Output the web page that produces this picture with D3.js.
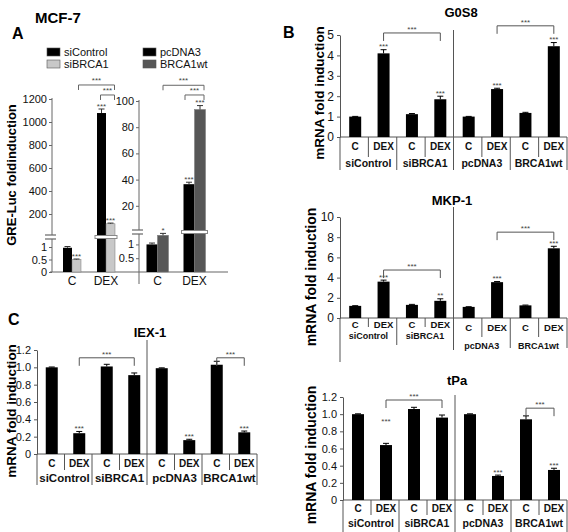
<!DOCTYPE html>
<html><head><meta charset="utf-8">
<script src="https://cdn.jsdelivr.net/npm/d3@7"></script>
<style>
body{margin:0;background:#fff;}
svg{display:block;font-family:"Liberation Sans",Arial,Helvetica,sans-serif;}
</style></head><body>
<svg id="chart" width="568" height="532"></svg>
<script>
// ================= DATA =================
const conditions = ["C", "DEX"];
const groups = ["siControl", "siBRCA1", "pcDNA3", "BRCA1wt"];

// Panel A (GRE-Luc fold induction), values per condition [C, DEX]
const aLegendLeft = ["siControl", "siBRCA1"];
const aLegendRight = ["pcDNA3", "BRCA1wt"];
const aSiControl = [0.97, 1078];
const aSiControlErr = [0.05, 35];
const aSiBRCA1 = [0.5, 115];
const aSiBRCA1Err = [0.02, 6];
const aPcDNA3 = [1.0, 36.5];
const aPcDNA3Err = [0.05, 1.5];
const aBRCA1wt = [1.33, 93.5];
const aBRCA1wtErr = [0.07, 3];
const aSiControlStars = ["", "***"];
const aSiBRCA1Stars = ["***", "***"];
const aPcDNA3Stars = ["", "***"];
const aBRCA1wtStars = ["*", "***"];
const aLeftUpperTicks = [200, 400, 600, 800, 1000, 1200];
const aLeftLowerTicks = [0, 0.5, 1];
const aRightUpperTicks = [20, 40, 60, 80, 100];
const aRightLowerTicks = [0.5, 1];

// Panel B / C (mRNA fold induction), order: siControl C, DEX, siBRCA1 C, DEX, pcDNA3 C, DEX, BRCA1wt C, DEX
const g0s8Values = [1.0, 4.1, 1.12, 1.85, 1.0, 2.35, 1.18, 4.45];
const g0s8Errors = [0.01, 0.18, 0.03, 0.15, 0.01, 0.04, 0.03, 0.18];
const g0s8Stars = ["", "***", "", "***", "", "***", "", "***"];
const g0s8Ticks = [0, 1, 2, 3, 4, 5];

const mkp1Values = [1.2, 3.6, 1.3, 1.7, 1.1, 3.55, 1.25, 6.9];
const mkp1Errors = [0.02, 0.15, 0.05, 0.2, 0.02, 0.06, 0.03, 0.2];
const mkp1Stars = ["", "***", "", "**", "", "***", "", "***"];
const mkp1Ticks = [0, 2, 4, 6, 8, 10];

const tpaValues = [1.0, 0.64, 1.06, 0.96, 1.0, 0.28, 0.94, 0.35];
const tpaErrors = [0.004, 0.02, 0.02, 0.03, 0.004, 0.01, 0.04, 0.02];
const tpaStars = ["", "***", "", "", "", "***", "", "***"];
const tpaTicks = [0, 0.2, 0.4, 0.6, 0.8, 1.0, 1.2];

const iex1Values = [1.0, 0.24, 1.01, 0.91, 0.99, 0.16, 1.03, 0.25];
const iex1Errors = [0.004, 0.02, 0.025, 0.025, 0.004, 0.01, 0.04, 0.015];
const iex1Stars = ["", "***", "", "", "", "***", "", "***"];
const iex1Ticks = [0, 0.2, 0.4, 0.6, 0.8, 1.0, 1.2];

// comparison brackets: [from bar, to bar, level (data units)]
const g0s8Brackets = [[1, 3, 5.1], [5, 7, 5.45]];
const mkp1Brackets = [[1, 3, 4.75], [5, 7, 8.5]];
const tpaBrackets = [[1, 3, 1.165], [6, 7, 1.07]];
const iex1Brackets = [[1, 3, 1.11], [6, 7, 1.11]];

// ================= DRAWING =================
const svg = d3.select("#chart");
const BAR = "#000";
const AX = "#555";
const STAR = "#444";

function decFmt(d) { return d === 0 ? "0" : d3.format(".1f")(d); }

// ---------- generic expression panel ----------
function drawExpr(cfg) {
  const g = svg.append("g");
  const x = d3.scaleBand().domain(d3.range(8)).range([cfg.x0, cfg.x1]);
  const bw = x.bandwidth();
  const y = d3.scaleLinear().domain([0, cfg.max]).range([cfg.y0, cfg.y1]);
  const barW = cfg.barW || 12;

  const ax = g.append("g").attr("transform", `translate(${cfg.x0},0)`)
    .call(d3.axisLeft(y).tickValues(cfg.ticks).tickFormat(cfg.fmt).tickSize(3).tickSizeOuter(0).tickPadding(3));
  ax.select(".domain").attr("stroke", AX);
  ax.selectAll(".tick line").attr("stroke", AX);
  ax.selectAll(".tick text").attr("font-size", cfg.tickFont || 12).attr("fill", "#111")
    .attr("font-family", '"Liberation Sans",Arial,sans-serif');

  g.append("line").attr("x1", cfg.x0).attr("x2", cfg.x1).attr("y1", cfg.y0).attr("y2", cfg.y0).attr("stroke", AX);

  g.selectAll("rect.bar").data(cfg.values).join("rect").attr("class", "bar")
    .attr("x", (d, i) => x(i) + bw / 2 - barW / 2 + 1)
    .attr("width", barW).attr("y", d => y(d)).attr("height", d => cfg.y0 - y(d)).attr("fill", BAR);

  cfg.values.forEach((v, i) => {
    const cx = x(i) + bw / 2 + 1;
    const top = y(v + cfg.errors[i]);
    g.append("line").attr("x1", cx).attr("x2", cx).attr("y1", y(v)).attr("y2", top).attr("stroke", "#000");
    g.append("line").attr("x1", cx - 3).attr("x2", cx + 3).attr("y1", top).attr("y2", top).attr("stroke", "#000");
    if (cfg.stars[i]) {
      const sy = (cfg.starLevel && cfg.starLevel[i] != null) ? y(cfg.starLevel[i]) : top;
      g.append("text").attr("x", cx).attr("y", sy - 0.5).attr("text-anchor", "middle")
        .attr("font-size", 8).attr("fill", STAR).text(cfg.stars[i]);
    }
  });

  cfg.brackets.forEach(([a, b, lv]) => {
    const xa = x(a) + bw / 2 + 1, xb = x(b) + bw / 2 + 1, yy = y(lv);
    g.append("path").attr("d", `M${xa},${yy + 8}V${yy}H${xb}V${yy + 8}`)
      .attr("fill", "none").attr("stroke", AX);
    g.append("text").attr("x", (xa + xb) / 2).attr("y", yy - 1).attr("text-anchor", "middle")
      .attr("font-size", 8).attr("fill", STAR).text("***");
  });

  const xd = cfg.x0 + 4 * bw;
  g.append("line").attr("x1", xd).attr("x2", xd).attr("y1", cfg.divTop).attr("y2", cfg.divBottom).attr("stroke", AX);

  g.append("line").attr("x1", cfg.x0).attr("x2", cfg.x0).attr("y1", cfg.y0).attr("y2", cfg.axisBottom).attr("stroke", AX);
  for (let k = 1; k <= 8; k++) {
    if (k === 4) continue;
    const half = k < 4 ? 0 : 1;
    const xs = cfg.x0 + k * bw;
    const end = (k % 2 === 0) ? cfg.longEnd[half] : cfg.shortEnd[half];
    g.append("line").attr("x1", xs).attr("x2", xs).attr("y1", cfg.y0).attr("y2", end).attr("stroke", AX);
  }
  d3.range(8).forEach(i => {
    const half = i < 4 ? 0 : 1;
    g.append("text").attr("x", x(i) + bw / 2 + 1).attr("y", cfg.catY[half]).attr("text-anchor", "middle")
      .attr("font-size", cfg.catFont || 10).attr("font-weight", "bold").attr("fill", "#111")
      .text(conditions[i % 2]);
  });
  groups.forEach((gn, j) => {
    const half = j < 2 ? 0 : 1;
    g.append("text").attr("x", cfg.x0 + (j * 2 + 1) * bw).attr("y", cfg.grpY[half]).attr("text-anchor", "middle")
      .attr("font-size", cfg.grpFont || 10).attr("font-weight", "bold").attr("fill", "#111")
      .attr("letter-spacing", cfg.grpSpacing || 0).text(gn);
  });

  g.append("text").attr("x", cfg.titleX).attr("y", cfg.titleY).attr("text-anchor", "middle")
    .attr("font-size", 13).attr("font-weight", "bold").text(cfg.title);
  g.append("text").attr("transform", `translate(${cfg.labX},${cfg.labY}) rotate(-90)`)
    .attr("text-anchor", "middle").attr("dominant-baseline", "central")
    .attr("font-size", cfg.labFont).attr("font-weight", "bold").text("mRNA fold induction");
}

// G0S8
drawExpr({
  x0: 340, x1: 567, y0: 137, y1: 35, max: 5, ticks: g0s8Ticks, fmt: d3.format("d"),
  values: g0s8Values, errors: g0s8Errors, stars: g0s8Stars, brackets: g0s8Brackets,
  divTop: 30, divBottom: 170, axisBottom: 170, shortEnd: [157, 157], longEnd: [170, 170],
  catY: [150, 150], grpY: [167, 167], grpFont: 10.5,
  title: "G0S8", titleX: 461, titleY: 17, labX: 319, labY: 93, labFont: 13.5
});
// MKP-1
drawExpr({
  x0: 340, x1: 567, y0: 318, y1: 217, max: 10, ticks: mkp1Ticks, fmt: d3.format("d"),
  values: mkp1Values, errors: mkp1Errors, stars: mkp1Stars, brackets: mkp1Brackets,
  divTop: 207, divBottom: 350, axisBottom: 362, shortEnd: [327, 337], longEnd: [345, 348],
  catY: [328, 331], grpY: [339, 349], grpFont: 9, catFont: 9.5,
  title: "MKP-1", titleX: 452, titleY: 205, labX: 311, labY: 277, labFont: 14
});
// tPa
drawExpr({
  x0: 343, x1: 567, y0: 500, y1: 397, max: 1.2, ticks: tpaTicks, fmt: decFmt, tickFont: 11,
  values: tpaValues, errors: tpaErrors, stars: tpaStars, brackets: tpaBrackets,
  starLevel: [null, 0.88, null, null, null, null, null, null],
  divTop: 395, divBottom: 532, axisBottom: 532, shortEnd: [515, 515], longEnd: [532, 532],
  catY: [512, 512], grpY: [527, 527], grpFont: 10.5,
  title: "tPa", titleX: 457, titleY: 385, labX: 311, labY: 455, labFont: 14
});
// IEX-1
drawExpr({
  x0: 37, x1: 257, y0: 454, y1: 350, max: 1.2, ticks: iex1Ticks, fmt: decFmt, tickFont: 11,
  values: iex1Values, errors: iex1Errors, stars: iex1Stars, brackets: iex1Brackets,
  divTop: 340, divBottom: 485, axisBottom: 485, shortEnd: [470, 470], longEnd: [485, 485],
  catY: [467, 467], grpY: [482, 482], grpFont: 11.5, catFont: 10,
  title: "IEX-1", titleX: 150, titleY: 337, labX: 11, labY: 411, labFont: 13.5
});

// ---------- Panel A ----------
(function () {
  const g = svg.append("g");
  const AXA = "#666";
  const LIGHT = "#c8c8c8", DARK = "#575757";
  const yZero = 272;

  function sub(cfg) {
    const yUp = d3.scaleLinear().domain([0, cfg.upMax]).range([cfg.breakY, cfg.upTopY]);
    const yLo = d3.scaleLinear().domain([0, cfg.loMax]).range([yZero, cfg.breakY]);
    const val = v => v > cfg.loMax ? yUp(v) : yLo(v);
    g.append("line").attr("x1", cfg.ax).attr("x2", cfg.ax).attr("y1", cfg.axisBottom).attr("y2", cfg.breakY + 2).attr("stroke", AXA);
    g.append("line").attr("x1", cfg.ax).attr("x2", cfg.ax).attr("y1", cfg.breakY - 2).attr("y2", cfg.upTopY - 1).attr("stroke", AXA);
    [-2, 2].forEach(o => g.append("line").attr("x1", cfg.ax - 7).attr("x2", cfg.ax + 4)
      .attr("y1", cfg.breakY + o).attr("y2", cfg.breakY + o).attr("stroke", AXA).attr("stroke-width", 1.2));
    const upAx = g.append("g").attr("transform", `translate(${cfg.ax},0)`)
      .call(d3.axisLeft(yUp).tickValues(cfg.upTicks).tickFormat(d3.format("d")).tickSize(3).tickSizeOuter(0).tickPadding(2));
    const loAx = g.append("g").attr("transform", `translate(${cfg.ax},0)`)
      .call(d3.axisLeft(yLo).tickValues(cfg.loTicks).tickFormat(d => String(d)).tickSize(3).tickSizeOuter(0).tickPadding(2));
    [upAx, loAx].forEach(a => {
      a.select(".domain").remove();
      a.selectAll(".tick line").attr("stroke", AXA);
      a.selectAll(".tick text").attr("font-size", 11).attr("fill", "#111")
        .attr("font-family", '"Liberation Sans",Arial,sans-serif');
    });
    const xb = d3.scaleBand().domain(conditions).range([cfg.xs, cfg.xe]);
    const series = [
      { v: cfg.s1, e: cfg.e1, s: cfg.st1, c: "#000" },
      { v: cfg.s2, e: cfg.e2, s: cfg.st2, c: cfg.c2 }
    ];
    conditions.forEach((cond, ci) => {
      const cx = xb(cond) + xb.bandwidth() / 2;
      series.forEach((s, si) => {
        const bx = cx - cfg.bw + si * cfg.bw;
        const top = val(s.v[ci]);
        g.append("rect").attr("x", bx).attr("width", cfg.bw).attr("y", top).attr("height", yZero - top)
          .attr("fill", s.c).attr("stroke", si === 1 ? "#777" : "none").attr("stroke-width", 0.5);
        const et = val(s.v[ci] + s.e[ci]);
        const ex = bx + cfg.bw / 2;
        g.append("line").attr("x1", ex).attr("x2", ex).attr("y1", top).attr("y2", et).attr("stroke", "#333");
        g.append("line").attr("x1", ex - 3).attr("x2", ex + 3).attr("y1", et).attr("y2", et).attr("stroke", "#333");
        if (s.s[ci]) g.append("text").attr("x", ex).attr("y", et - 0.5).attr("text-anchor", "middle")
          .attr("font-size", 8).attr("fill", STAR).text(s.s[ci]);
      });
      if (cfg.s1[ci] > cfg.loMax || cfg.s2[ci] > cfg.loMax) {
        g.append("rect").attr("x", cx - cfg.bw - 2).attr("width", cfg.bw * 2 + 4)
          .attr("y", cfg.breakY - 1.5).attr("height", 3)
          .attr("fill", "#fff").attr("stroke", "#888").attr("stroke-width", 1);
      }
      g.append("text").attr("x", cx).attr("y", 285).attr("text-anchor", "middle")
        .attr("font-size", 12).attr("fill", "#111").text(cond);
    });
    const barCenter = (ci, si) => xb(conditions[ci]) + xb.bandwidth() / 2 - cfg.bw / 2 + si * cfg.bw;
    cfg.brackets.forEach(b => {
      const xa = barCenter(b[0], b[1]) + b[5], xz = barCenter(b[2], b[3]) + 4, yy = yUp(b[4]);
      g.append("path").attr("d", `M${xa},${yy + 5}V${yy}H${xz}V${yy + 5}`).attr("fill", "none").attr("stroke", AXA);
      g.append("text").attr("x", (xa + xz) / 2).attr("y", yy - 2).attr("text-anchor", "middle")
        .attr("font-size", 8).attr("fill", STAR).text("***");
    });
  }

  g.append("line").attr("x1", 50).attr("x2", 228).attr("y1", yZero).attr("y2", yZero).attr("stroke", AXA).attr("stroke-width", 1.2);

  sub({
    ax: 52, upMax: 1200, upTopY: 99, breakY: 237, loMax: 1.4, upTicks: aLeftUpperTicks, loTicks: aLeftLowerTicks,
    axisBottom: yZero, xs: 55, xe: 123, bw: 9, s1: aSiControl, e1: aSiControlErr, st1: aSiControlStars,
    s2: aSiBRCA1, e2: aSiBRCA1Err, st2: aSiBRCA1Stars, c2: LIGHT,
    brackets: [[0, 1, 1, 1, 1322, 2], [1, 0, 1, 1, 1235, -1]]
  });
  sub({
    ax: 139, upMax: 100, upTopY: 101, breakY: 232, loMax: 1.45, upTicks: aRightUpperTicks, loTicks: aRightLowerTicks,
    axisBottom: 284, xs: 139, xe: 213, bw: 11, s1: aPcDNA3, e1: aPcDNA3Err, st1: aPcDNA3Stars,
    s2: aBRCA1wt, e2: aBRCA1wtErr, st2: aBRCA1wtStars, c2: DARK,
    brackets: [[0, 1, 1, 1, 112, 0], [1, 0, 1, 1, 104.6, -4]]
  });

  const leg = [[47, aLegendLeft, ["#000", LIGHT]], [143, aLegendRight, ["#000", DARK]]];
  leg.forEach(([lx, names, cols]) => {
    names.forEach((n, i) => {
      g.append("rect").attr("x", lx).attr("y", 48 + i * 12).attr("width", 13).attr("height", 8)
        .attr("fill", cols[i]).attr("stroke", "#555").attr("stroke-width", 0.6);
      g.append("text").attr("x", lx + 17).attr("y", 56 + i * 12).attr("font-size", 11).attr("fill", "#111").text(n);
    });
  });

  g.append("text").attr("transform", "translate(11,175) rotate(-90)").attr("text-anchor", "middle")
    .attr("dominant-baseline", "central").attr("font-size", 13).attr("font-weight", "bold").text("GRE-Luc foldinduction");
})();

svg.append("text").attr("x", 35).attr("y", 23).attr("font-size", 15).attr("font-weight", "bold").text("MCF-7");
svg.append("text").attr("x", 12).attr("y", 39).attr("font-size", 16).attr("font-weight", "bold").text("A");
svg.append("text").attr("x", 283).attr("y", 38).attr("font-size", 16).attr("font-weight", "bold").text("B");
svg.append("text").attr("x", 8).attr("y", 325).attr("font-size", 16).attr("font-weight", "bold").text("C");
</script>
</body></html>
